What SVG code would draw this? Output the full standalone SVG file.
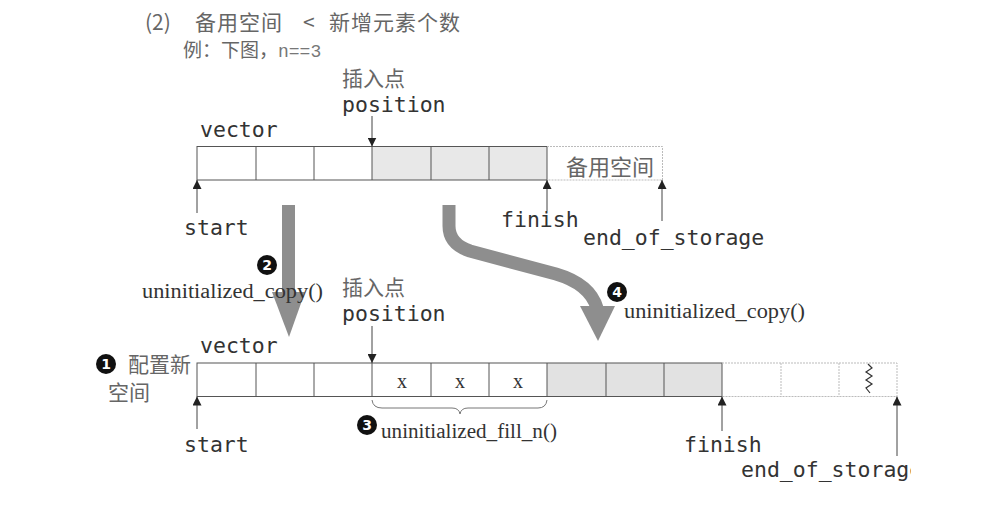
<svg xmlns="http://www.w3.org/2000/svg" width="993" height="519" viewBox="0 0 993 519">
<style>
.zh{font-family:"Noto Sans CJK SC","Noto Sans",sans-serif;fill:#666;}
.code{font-family:"DejaVu Sans Mono","Liberation Mono",monospace;font-size:21.5px;fill:#333;}
.fn{font-family:"Liberation Serif","DejaVu Serif",serif;font-size:20px;fill:#333;}
.cell{stroke:#555;stroke-width:1;}
.spare{fill:none;stroke:#bbb;stroke-width:1;stroke-dasharray:2 1;}
.ptr{stroke:#444;stroke-width:1;fill:none;}
.bigarrow{fill:#8e8e8e;}
.num{font-family:"DejaVu Sans","Liberation Sans",sans-serif;font-weight:bold;font-size:14px;fill:#fff;text-anchor:middle;}
</style>
<defs>
<marker id="tri" viewBox="0 0 10 10" refX="10" refY="5" markerWidth="9" markerHeight="9" orient="auto" markerUnits="userSpaceOnUse">
<path d="M0,0 L10,5 L0,10 z" fill="#222"/>
</marker>
<clipPath id="clipR"><rect x="0" y="0" width="911" height="519"/></clipPath>
</defs>
<rect x="0" y="0" width="993" height="519" fill="#fff"/>

<g id="header">
<text class="zh" x="145" y="30" font-size="21"><tspan x="145">(2)</tspan><tspan x="195" letter-spacing="1">备用空间</tspan><tspan x="303">&lt;</tspan><tspan x="329" letter-spacing="1">新增元素个数</tspan></text>
<text class="zh" x="183" y="57" font-size="19">例：下图，<tspan font-family="Liberation Mono, monospace" font-size="18" fill="#777">n==3</tspan></text>
</g>

<g id="top-vector">
<text class="code" x="200" y="137">vector</text>
<rect x="372" y="146.5" width="175" height="33.5" fill="#e8e8e8"/>
<rect x="197" y="146.5" width="350" height="33.5" fill="none" class="cell"/>
<line class="cell" x1="256" y1="146.5" x2="256" y2="180"/>
<line class="cell" x1="314" y1="146.5" x2="314" y2="180"/>
<line class="cell" x1="372" y1="146.5" x2="372" y2="180"/>
<line class="cell" x1="431" y1="146.5" x2="431" y2="180"/>
<line class="cell" x1="489" y1="146.5" x2="489" y2="180"/>
<path class="spare" d="M547,146.5 H662.5 V180 H547"/>
<text class="zh" x="566" y="175" font-size="22" fill="#777">备用空间</text>
</g>

<g id="top-labels">
<text class="zh" x="342" y="86" font-size="21">插入点</text>
<text class="code" x="342" y="112">position</text>
<text class="code" x="184" y="235">start</text>
<text class="code" x="501" y="227">finish</text>
<text class="code" x="583" y="245">end_of_storage</text>
</g>

<g id="bottom-vector">
<text class="code" x="200" y="353">vector</text>
<rect x="547" y="363" width="175" height="33.5" fill="#e2e2e2"/>
<rect x="197" y="363" width="525" height="33.5" fill="none" class="cell"/>
<line class="cell" x1="256" y1="363" x2="256" y2="396.5"/>
<line class="cell" x1="314" y1="363" x2="314" y2="396.5"/>
<line class="cell" x1="372" y1="363" x2="372" y2="396.5"/>
<line class="cell" x1="431" y1="363" x2="431" y2="396.5"/>
<line class="cell" x1="489" y1="363" x2="489" y2="396.5"/>
<line class="cell" x1="547" y1="363" x2="547" y2="396.5"/>
<line class="cell" x1="606" y1="363" x2="606" y2="396.5"/>
<line class="cell" x1="664" y1="363" x2="664" y2="396.5"/>
<path class="spare" d="M722,363 H897 V396.5 H722 M781,363 V396.5 M839,363 V396.5"/>
<polyline points="868,364 872,368 866,372 872,376 866,380 872,384 866,388 870,393" fill="none" stroke="#333" stroke-width="1.2"/>
<text class="fn" x="402" y="388" text-anchor="middle" font-size="17">x</text>
<text class="fn" x="460" y="388" text-anchor="middle" font-size="17">x</text>
<text class="fn" x="518" y="388" text-anchor="middle" font-size="17">x</text>
</g>

<g id="step1">
<circle cx="106" cy="364" r="10" fill="#111"/>
<text class="num" x="106" y="369">1</text>
<text class="zh" x="128" y="372" font-size="21">配置新</text>
<text class="zh" x="108" y="400" font-size="21">空间</text>
</g>

<g id="bottom-labels">
<text class="zh" x="342" y="295" font-size="21">插入点</text>
<text class="code" x="342" y="321">position</text>
<text class="code" x="184" y="452">start</text>
<text class="code" x="684" y="452">finish</text>
<text class="code" x="741" y="477" clip-path="url(#clipR)">end_of_storage</text>
</g>

<g id="step3">
<path d="M372,400 Q373,408 382,408 H452 Q459,408 460,414 Q461,408 468,408 H538 Q546,408 547,400" fill="none" stroke="#777" stroke-width="1"/>
<circle cx="367" cy="425" r="10" fill="#111"/>
<text class="num" x="367" y="430">3</text>
<text class="fn" x="381" y="438" textLength="176" lengthAdjust="spacingAndGlyphs">uninitialized_fill_n()</text>
</g>

<g id="step2">
<rect class="bigarrow" x="282" y="205" width="13" height="88"/>
<polygon class="bigarrow" points="272,292 305,292 289,337"/>
<circle cx="267" cy="265" r="10" fill="#111"/>
<text class="num" x="267" y="270">2</text>
<text class="fn" x="142" y="298" textLength="181" lengthAdjust="spacingAndGlyphs">uninitialized_copy()</text>
</g>

<g id="step4">
<path d="M449,205 L449,226 Q449,244 470,251 L556,274 Q590,284 597,308" fill="none" stroke="#8e8e8e" stroke-width="13"/>
<polygon class="bigarrow" points="580,306 615,306 598,341"/>
<circle cx="617" cy="292" r="10" fill="#111"/>
<text class="num" x="617" y="297">4</text>
<text class="fn" x="624" y="318" textLength="181" lengthAdjust="spacingAndGlyphs">uninitialized_copy()</text>
</g>

<g id="connectors">
<line class="ptr" x1="372" y1="116" x2="372" y2="146.5" marker-end="url(#tri)"/>
<line class="ptr" x1="197" y1="213" x2="197" y2="180" marker-end="url(#tri)"/>
<line class="ptr" x1="547" y1="211" x2="547" y2="180" marker-end="url(#tri)"/>
<line class="ptr" x1="662" y1="221" x2="662" y2="180" marker-end="url(#tri)"/>
<line class="ptr" x1="372" y1="326" x2="372" y2="363" marker-end="url(#tri)"/>
<line class="ptr" x1="197" y1="429" x2="197" y2="396.5" marker-end="url(#tri)"/>
<line class="ptr" x1="722" y1="431" x2="722" y2="396.5" marker-end="url(#tri)"/>
<line class="ptr" x1="897" y1="456" x2="897" y2="396.5" marker-end="url(#tri)"/>
</g>
</svg>
